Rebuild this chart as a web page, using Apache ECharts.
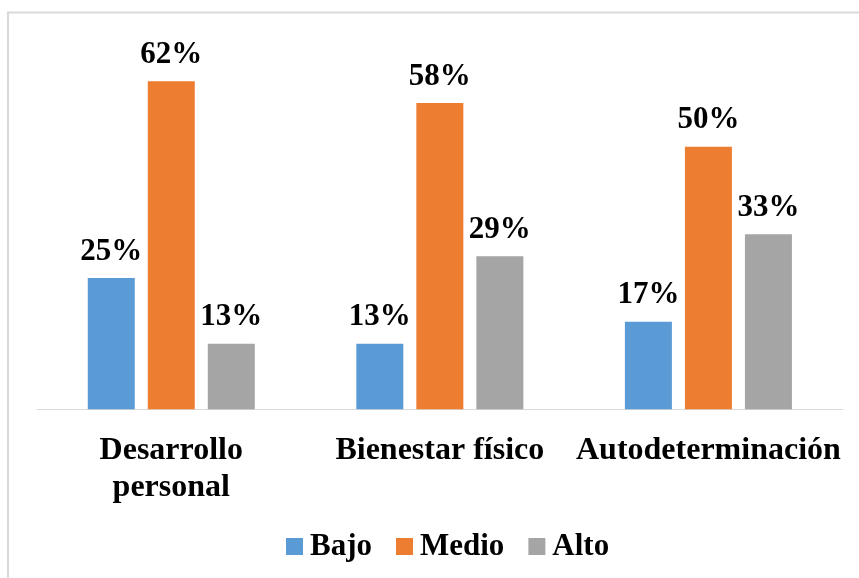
<!DOCTYPE html>
<html>
<head>
<meta charset="utf-8">
<script src="https://cdn.jsdelivr.net/npm/echarts@6/dist/echarts.min.js"></script>
<style>
html,body{margin:0;padding:0;background:#fff;}
#c{width:859px;height:578px;}
</style>
</head>
<body>
<div id="c"></div>
<script>
const categories = ['Desarrollo\npersonal', 'Bienestar físico', 'Autodeterminación'];
const seriesNames = ['Bajo', 'Medio', 'Alto'];
const bajo = [25, 12.5, 16.67];
const medio = [62.5, 58.33, 50];
const alto = [12.5, 29.17, 33.33];
const bajoLabels = ['25%', '13%', '17%'];
const medioLabels = ['62%', '58%', '50%'];
const altoLabels = ['13%', '29%', '33%'];
const colors = ['#5B9BD5', '#ED7D31', '#A5A5A5'];

const font = '"Liberation Serif", "Times New Roman", serif';
const chart = echarts.init(document.getElementById('c'), null, {renderer: 'canvas'});

function mk(name, data, labels, color) {
  return {
    name: name,
    type: 'bar',
    data: data,
    barWidth: 47,
    barGap: '27.7%',
    itemStyle: {color: color},
    label: {
      show: true,
      position: 'top',
      distance: 11,
      formatter: p => labels[p.dataIndex],
      fontFamily: font,
      fontWeight: 'bold',
      fontSize: 31,
      color: '#000'
    }
  };
}

chart.setOption({
  animation: false,
  backgroundColor: '#fff',
  graphic: [{
    type: 'rect',
    shape: {x: 8, y: 12.5, width: 900, height: 600},
    style: {fill: 'none', stroke: '#D9D9D9', lineWidth: 2},
    silent: true
  }],
  grid: {left: 37, right: 16.3, top: 41.8, bottom: 168.7, containLabel: false},
  legend: {
    data: seriesNames,
    left: 281,
    top: 526,
    icon: 'rect',
    itemWidth: 17,
    itemHeight: 17,
    itemGap: 24,
    textStyle: {fontFamily: font, fontWeight: 'bold', fontSize: 31, color: '#000', padding: [0, 0, 0, 2]}
  },
  xAxis: {
    type: 'category',
    data: categories,
    axisLine: {lineStyle: {color: '#D9D9D9', width: 1}},
    axisTick: {show: false},
    axisLabel: {
      interval: 0,
      margin: 23,
      fontFamily: font,
      fontWeight: 'bold',
      fontSize: 32,
      lineHeight: 37,
      color: '#000'
    }
  },
  yAxis: {
    type: 'value',
    min: 0,
    max: 70,
    show: false,
    splitLine: {show: false}
  },
  series: [
    mk(seriesNames[0], bajo, bajoLabels, colors[0]),
    mk(seriesNames[1], medio, medioLabels, colors[1]),
    mk(seriesNames[2], alto, altoLabels, colors[2])
  ]
});
</script>
</body>
</html>
